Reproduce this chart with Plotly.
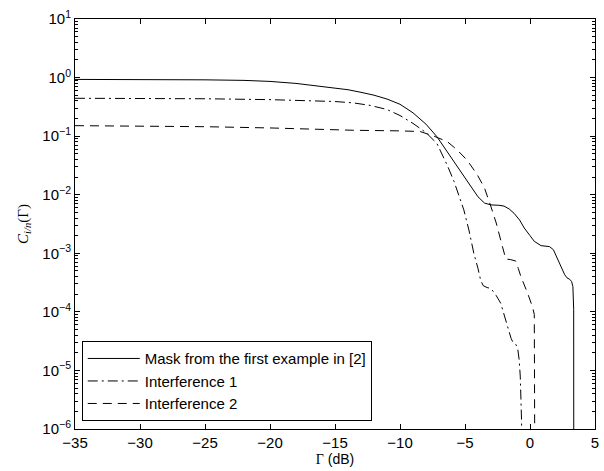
import plotly.graph_objects as go

# Mask from the first example in [2]
mask_x = [-35, -30, -25, -22, -20, -18, -16, -14, -13, -12, -11, -10, -9, -8, -7.16, -5.85,
          -5.2, -4.45, -4.0, -3.5, -3.0, -2.4, -2.0, -1.6, -1.22, -0.8, -0.44, 0, 0.33,
          0.85, 1.2, 1.5, 1.8, 2.14, 2.45, 2.67, 2.85, 3.05, 3.2, 3.3, 3.36, 3.37]
mask_y = [0.93, 0.927, 0.915, 0.895, 0.86, 0.795, 0.71, 0.62, 0.56, 0.5, 0.43, 0.35, 0.25, 0.16,
          0.098, 0.037, 0.022, 0.013, 0.0092, 0.0072, 0.0067, 0.0066, 0.0064, 0.0057, 0.0048,
          0.0037, 0.0027, 0.002, 0.0016, 0.00135, 0.00131, 0.0013, 0.00115, 7.8e-4, 5.6e-4,
          4.3e-4, 3.8e-4, 3.6e-4, 3.3e-4, 2.7e-4, 1.1e-4, 1e-8]

# Interference 1
int1_x = [-35, -30, -25, -20, -17.5, -15, -13.6, -12.3, -11, -10, -9, -8, -7.16, -6.37, -5.85,
          -5.35, -5.09, -4.7, -4.32, -4.0, -3.8, -3.6, -3.3, -3.0, -2.6, -2.25, -1.74, -1.45,
          -1.3, -1.1, -0.95, -0.83, -0.75, -0.7, -0.65, -0.62]
int1_y = [0.443, 0.44, 0.435, 0.42, 0.41, 0.39, 0.37, 0.335, 0.285, 0.225, 0.165, 0.115, 0.075,
          0.032, 0.017, 0.0081, 0.0055, 0.0025, 1.0e-3, 5.5e-4, 3.5e-4, 2.8e-4, 2.6e-4, 2.5e-4,
          1.9e-4, 1.4e-4, 5.6e-5, 3.5e-5, 3.0e-5, 2.8e-5, 2.4e-5, 1.5e-5, 8e-6, 4.2e-6, 1.4e-6, 1e-8]

# Interference 2
int2_x = [-35, -30, -25, -20, -17, -13.6, -10, -8.45, -7.4, -6.37, -5.6, -4.84, -4.06, -3.5,
          -3.0, -2.6, -2.12, -1.95, -1.86, -1.5, -1.1, -0.9, -0.7, -0.19, 0.2, 0.33, 0.39]
int2_y = [0.151, 0.149, 0.145, 0.138, 0.132, 0.126, 0.123, 0.12, 0.10, 0.081, 0.058, 0.039, 0.022,
          0.013, 0.0062, 0.0033, 0.0013, 9e-4, 8e-4, 7.8e-4, 7.4e-4, 5.5e-4, 4e-4, 2.1e-4, 1.2e-4,
          9e-5, 1e-8]

x_ticks = [-35, -30, -25, -20, -15, -10, -5, 0, 5]
x_tick_text = ["\u221235", "\u221230", "\u221225", "\u221220", "\u221215", "\u221210", "\u22125", "0", "5"]
y_exps = [1, 0, -1, -2, -3, -4, -5, -6]

names = ["Mask from the first example in [2]", "Interference 1", "Interference 2"]

fig = go.Figure()
fig.add_trace(go.Scatter(x=mask_x, y=mask_y, mode="lines", name=names[0], legendgroup="a",
                         line=dict(color="black", width=1)))
fig.add_trace(go.Scatter(x=int1_x, y=int1_y, mode="lines", name=names[1], legendgroup="b",
                         line=dict(color="black", width=1, dash="10px,4px,2px,4px")))
fig.add_trace(go.Scatter(x=int2_x, y=int2_y, mode="lines", name=names[2], legendgroup="c",
                         line=dict(color="black", width=1, dash="9px,6px")))

font = "Liberation Sans, Arial, sans-serif"
fig.update_layout(
    width=604, height=471,
    margin=dict(l=75, r=9, t=19, b=42),
    paper_bgcolor="white", plot_bgcolor="white",
    font=dict(family=font, size=15, color="black"),
    showlegend=True,
    legend=dict(x=0.013, y=0.019, xanchor="left", yanchor="bottom",
                bordercolor="black", borderwidth=1, bgcolor="white", itemwidth=52,
                font=dict(size=15), tracegroupgap=0, traceorder="grouped"),
    xaxis=dict(range=[-35, 5], tickvals=x_ticks, ticktext=x_tick_text, automargin=False,
               showline=True, linecolor="black", linewidth=1, mirror="ticks",
               ticks="inside", ticklen=5, tickcolor="black", showgrid=False, zeroline=False,
               title=dict(text="<span style='font-family:Liberation Serif'>\u0393</span> (dB)",
                          font=dict(size=14), standoff=0)),
    yaxis=dict(type="log", range=[-6, 1], automargin=False,
               tickvals=[10.0 ** e for e in y_exps],
               ticktext=["10<sup>%s</sup>" % (str(e).replace("-", "\u2212")) for e in y_exps],
               showline=True, linecolor="black", linewidth=1, mirror="ticks",
               ticks="inside", ticklen=5, tickcolor="black", showgrid=False, zeroline=False,
               minor=dict(ticks="inside", ticklen=3, tickcolor="black", dtick="D1", showgrid=False),
               title=dict(text="<i>C</i><sub><i>i/n</i></sub>(\u0393)",
                          font=dict(family="Liberation Serif, Times New Roman, serif", size=15),
                          standoff=10)),
)

fig.write_html("out.html", post_script="document.body.style.margin='0px';",
               config={"displayModeBar": False})
